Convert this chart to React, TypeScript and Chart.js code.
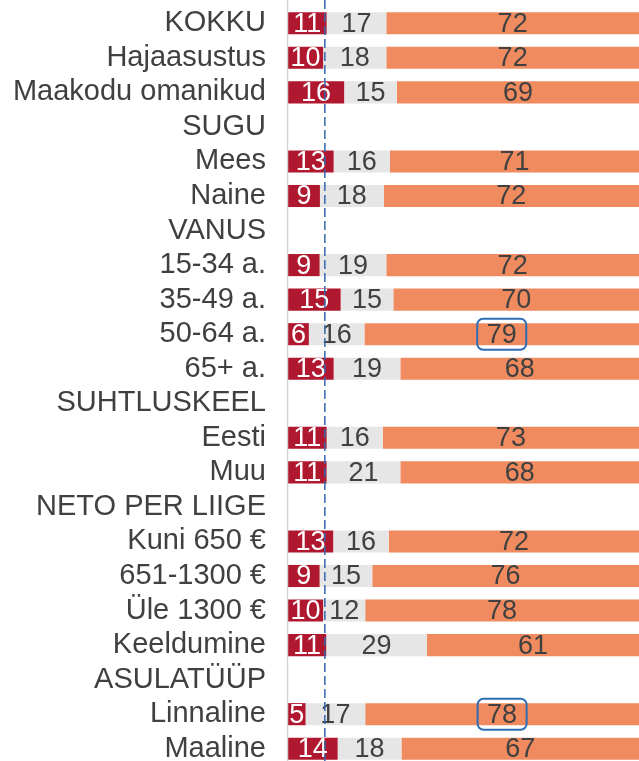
import React, { useEffect, useRef } from "react";
import { Chart, registerables } from "chart.js";

Chart.register(...registerables);

const categories = [
  "KOKKU", "Hajaasustus", "Maakodu omanikud", "SUGU", "Mees", "Naine", "VANUS",
  "15-34 a.", "35-49 a.", "50-64 a.", "65+ a.", "SUHTLUSKEEL", "Eesti", "Muu",
  "NETO PER LIIGE", "Kuni 650 €", "651-1300 €", "Üle 1300 €", "Keeldumine",
  "ASULATÜÜP", "Linnaline", "Maaline",
];

const seriesRed = [11, 10, 16, null, 13, 9, null, 9, 15, 6, 13, null, 11, 11, null, 13, 9, 10, 11, null, 5, 14];
const seriesGrey = [17, 18, 15, null, 16, 18, null, 19, 15, 16, 19, null, 16, 21, null, 16, 15, 12, 29, null, 17, 18];
const seriesOrange = [72, 72, 69, null, 71, 72, null, 72, 70, 79, 68, null, 73, 68, null, 72, 76, 78, 61, null, 78, 67];

const referenceValue = 10.5;
// [category index, dataset index] of labels drawn with a highlight box
const highlights: [number, number][] = [[9, 2], [20, 2]];

const FONT = "'Liberation Sans', Arial, Helvetica, sans-serif";

const allSeries = [seriesRed, seriesGrey, seriesOrange];
const totals = categories.map((_, i) =>
  allSeries.reduce((s, arr) => s + (arr[i] ?? 0), 0)
);
const toShare = (arr: (number | null)[]) =>
  arr.map((v, i) => (v === null ? null : (v / totals[i]) * 100));

export default function App() {
  const ref = useRef<HTMLCanvasElement>(null);

  useEffect(() => {
    const canvas = ref.current!;
    const overlay = {
      id: "overlay",
      afterDatasetsDraw(chart: any) {
        const ctx = chart.ctx as CanvasRenderingContext2D;
        const xs = chart.scales.x;
        const area = chart.chartArea;
        // axis line
        ctx.save();
        ctx.strokeStyle = "#d4d4d4";
        ctx.lineWidth = 1.5;
        ctx.beginPath();
        ctx.moveTo(area.left - 0.5, 0);
        ctx.lineTo(area.left - 0.5, chart.height);
        ctx.stroke();
        ctx.restore();

        // labels
        ctx.save();
        ctx.font = `27px ${FONT}`;
        ctx.textAlign = "center";
        ctx.textBaseline = "middle";
        chart.data.datasets.forEach((ds: any, di: number) => {
          const meta = chart.getDatasetMeta(di);
          meta.data.forEach((el: any, i: number) => {
            const v = allSeries[di][i];
            if (v === null || v === undefined) return;
            const cx = (el.x + el.base) / 2;
            const cy = el.y;
            ctx.fillStyle = di === 0 ? "#ffffff" : "#404040";
            ctx.fillText(String(v), cx, cy + 1);
            if (highlights.some(([c, d]) => c === i && d === di)) {
              const w = 49, h = 31, r = 6;
              ctx.save();
              ctx.strokeStyle = "#2f6db3";
              ctx.lineWidth = 2;
              ctx.beginPath();
              (ctx as any).roundRect(cx - w / 2, cy - h / 2, w, h, r);
              ctx.stroke();
              ctx.restore();
            }
          });
        });
        ctx.restore();

        // dashed reference line
        const rx = xs.getPixelForValue(referenceValue);
        ctx.save();
        ctx.strokeStyle = "#3568ab";
        ctx.lineWidth = 1.5;
        ctx.setLineDash([9, 4]);
        ctx.beginPath();
        ctx.moveTo(rx, 0);
        ctx.lineTo(rx, chart.height);
        ctx.stroke();
        ctx.restore();
      },
    };

    const chart = new Chart(canvas, {
      type: "bar",
      data: {
        labels: categories,
        datasets: [
          { data: toShare(seriesRed), backgroundColor: "#b0182f" },
          { data: toShare(seriesGrey), backgroundColor: "#e6e6e6" },
          { data: toShare(seriesOrange), backgroundColor: "#f08b60" },
        ],
      },
      options: {
        indexAxis: "y",
        responsive: false,
        animation: false,
        devicePixelRatio: 1,
        layout: { padding: { top: 6, right: 0, bottom: 0, left: 0 } },
        datasets: {
          bar: { categoryPercentage: 1, barPercentage: 0.64, borderWidth: 0 },
        },
        plugins: {
          legend: { display: false },
          tooltip: { enabled: false },
        },
        scales: {
          x: {
            stacked: true,
            min: 0,
            max: 100,
            display: false,
          },
          y: {
            stacked: true,
            grid: { display: false, drawTicks: false },
            border: { display: false },
            afterFit(scale: any) {
              scale.width = 288;
              scale.paddingTop = 0;
              scale.paddingBottom = 0;
            },
            ticks: {
              autoSkip: false,
              padding: 22,
              color: "#404040",
              font: { family: FONT, size: 29 },
            },
          },
        },
      },
      plugins: [overlay],
    } as any);
    return () => chart.destroy();
  }, []);

  return (
    <div style={{ position: "absolute", left: 0, top: 0, width: 639, height: 766 }}>
      <canvas ref={ref} width={639} height={766} style={{ display: "block" }} />
    </div>
  );
}
